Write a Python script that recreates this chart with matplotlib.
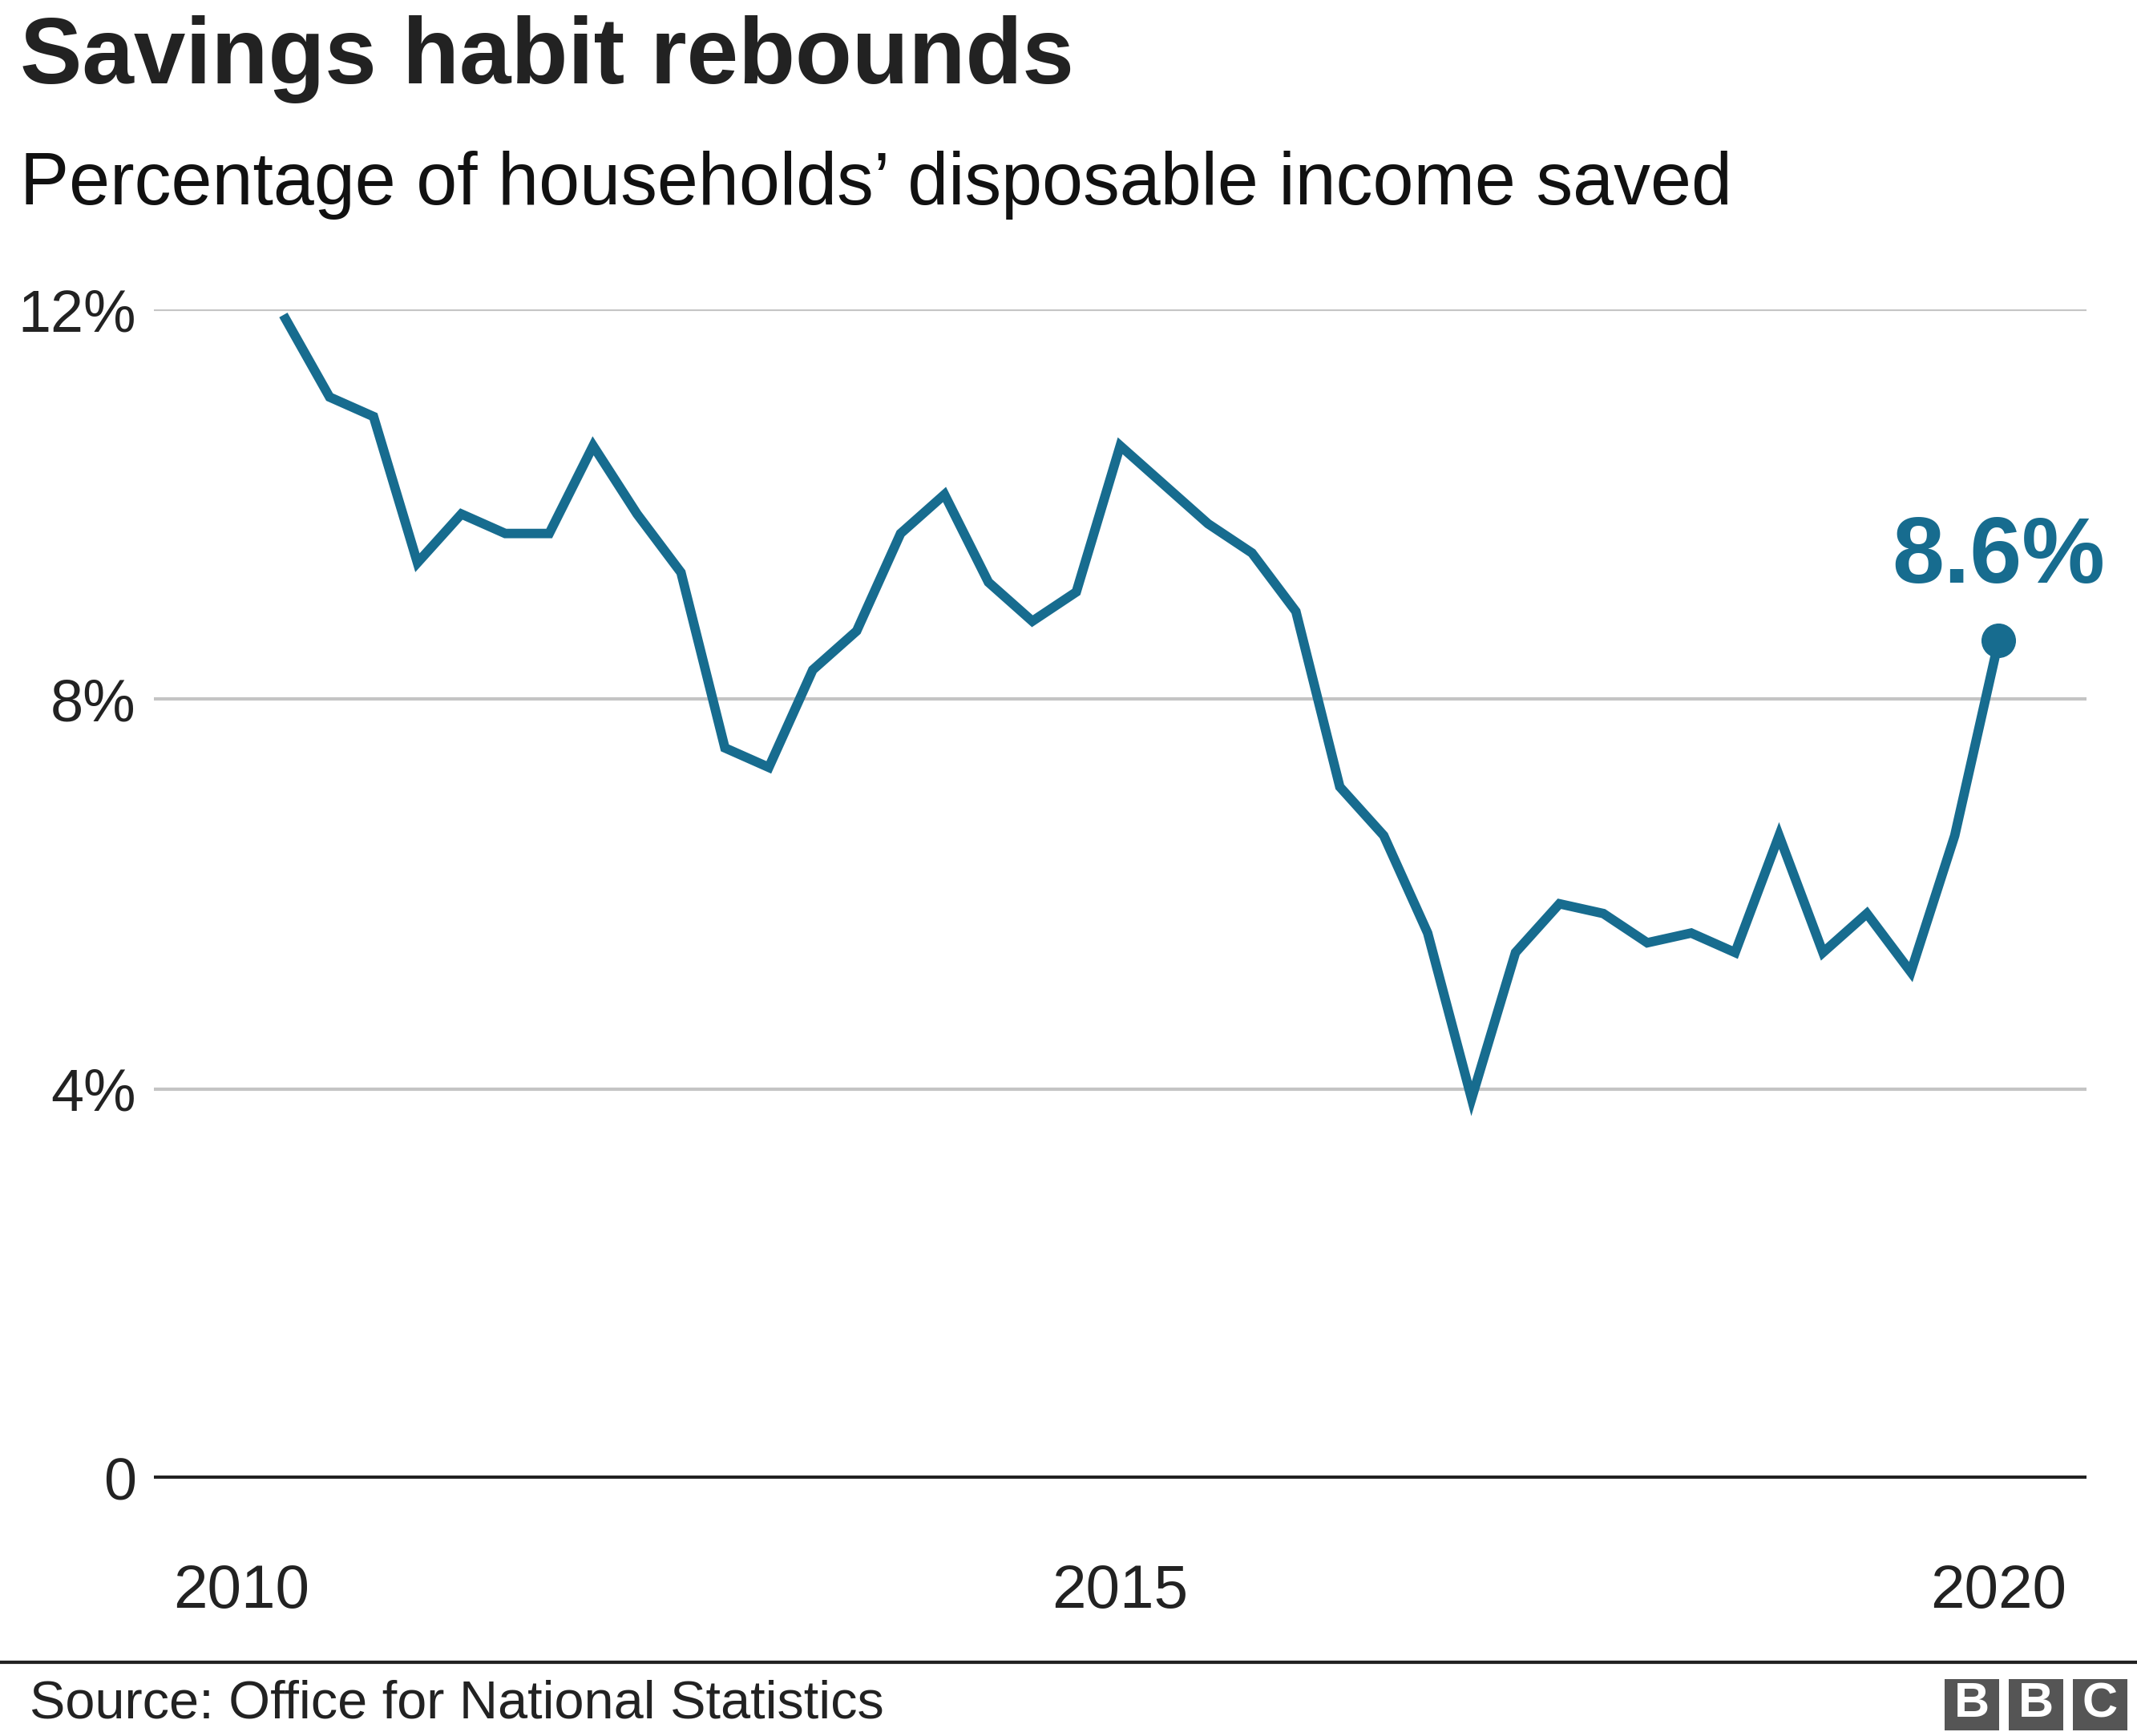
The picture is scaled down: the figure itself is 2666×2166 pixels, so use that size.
import numpy as np
import matplotlib
matplotlib.use("Agg")
from matplotlib import pyplot as plt
from matplotlib.patches import Rectangle

plt.rcParams['font.family'] = ['Liberation Sans', 'DejaVu Sans']

# quarterly household saving ratio, 2010 Q2 .. 2020 Q1
years = list(range(2010, 2021))
quarters = [f"{y} Q{q}" for y in years for q in range(1, 5)][1:41]
saving_ratio = [11.9, 11.1, 10.9, 9.4, 9.9, 9.7, 9.7, 10.6, 9.9, 9.3,
                7.5, 7.3, 8.3, 8.7, 9.7, 10.1, 9.2, 8.8, 9.1, 10.6,
                10.2, 9.8, 9.5, 8.9, 7.1, 6.6, 5.6, 3.9, 5.4, 5.9,
                5.8, 5.5, 5.6, 5.4, 6.6, 5.4, 5.8, 5.2, 6.6, 8.6]
y_ticks = [0, 4, 8, 12]
y_tick_labels = ['0', '4%', '8%', '12%']
x_ticks = [2010, 2015, 2020]
last_label = '8.6%'

# quarter label -> decimal year (Q1 sits on the year tick)
x = np.array([int(q[:4]) + (int(q[-1]) - 1) / 4 for q in quarters])

line_col = '#176c8f'
W, H = 2666, 2166
fig = plt.figure(figsize=(W / 100, H / 100), dpi=100)
ax = fig.add_axes([192 / W, 1 - 1845 / H, (2603 - 192) / W, (1845 - 386) / H])

for v in y_ticks[1:]:
    ax.axhline(v, color='#c4c4c4', lw=3, zorder=1)
ax.axhline(0, color='#222222', lw=6.5, zorder=2)

ax.plot(x, saving_ratio, color=line_col, lw=8.5, solid_joinstyle='miter', zorder=3, clip_on=False)
ax.plot(x[-1], saving_ratio[-1], 'o', color=line_col, ms=30, zorder=4, clip_on=False)
ax.annotate(last_label, (x[-1], saving_ratio[-1]), xytext=(0, 52), textcoords='offset points',
            ha='center', va='baseline', fontsize=84, fontweight='bold', color=line_col)

ax.set_xlim(2009.5, 2020.5)
ax.set_ylim(0, 12)
ax.set_yticks(y_ticks)
ax.set_yticklabels(y_tick_labels)
ax.set_xticks(x_ticks)
ax.set_xticklabels([str(t) for t in x_ticks])
ax.tick_params(axis='y', length=0, pad=16, labelsize=53, labelcolor='#222222')
ax.tick_params(axis='x', length=0, pad=76, labelsize=55, labelcolor='#222222')
for s in ax.spines.values():
    s.set_visible(False)

fig.text(25 / W, 1 - 104 / H, 'Savings habit rebounds', fontsize=83.5, fontweight='bold',
         color='#222222', va='baseline', ha='left')
fig.text(25 / W, 1 - 255 / H, 'Percentage of households\u2019 disposable income saved',
         fontsize=66, color='#111111', va='baseline', ha='left')

# footer
fig.add_artist(plt.Line2D([0, 1], [1 - 2074 / H, 1 - 2074 / H], color='#222222', lw=3))
fig.text(37 / W, 1 - 2127 / H, 'Source: Office for National Statistics', fontsize=48,
         color='#222222', va='center', ha='left')
for i, letter in enumerate('BBC'):
    x0 = 2426 + i * 80
    fig.add_artist(Rectangle((x0 / W, 1 - 2159 / H), 68 / W, 64 / H, transform=fig.transFigure,
                             color='#555555', lw=0))
    fig.text((x0 + 34) / W, 1 - 2127 / H, letter, fontsize=44, fontweight='bold',
             color='white', ha='center', va='center')

fig.savefig('out.png', dpi=100)
